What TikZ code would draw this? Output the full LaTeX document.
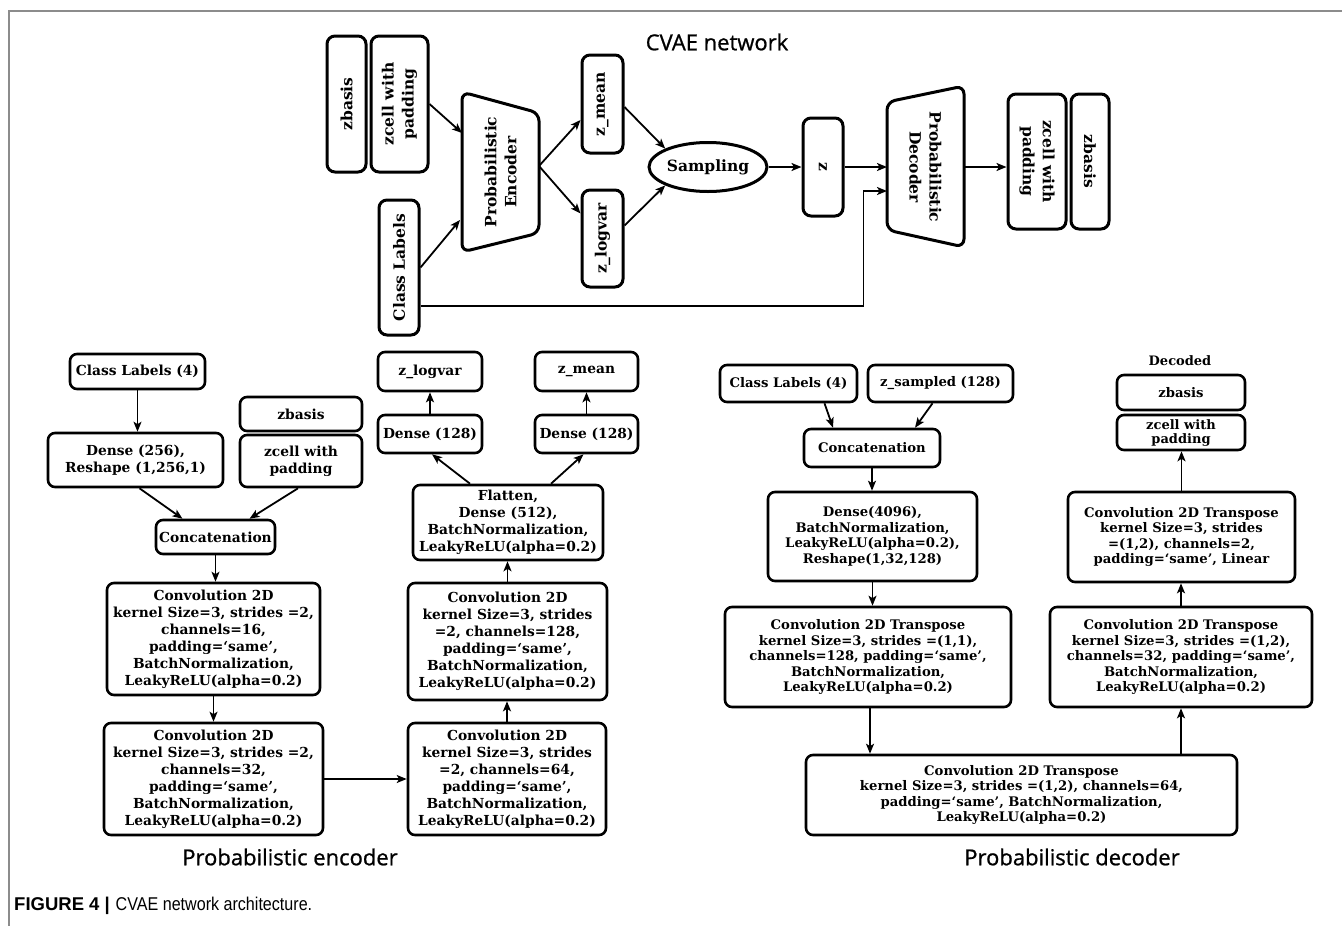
\documentclass[tikz,border=0pt]{standalone}
\usepackage{fontspec}
\setmainfont{DejaVu Serif}
\newfontfamily\sansT[FakeBold=0.9]{Open Sans}
\newfontfamily\capfont{Liberation Sans}
\newfontfamily\capnarrow[FakeStretch=0.87]{Liberation Sans}
\usetikzlibrary{arrows.meta,shapes.geometric}
\begin{document}
\begin{tikzpicture}[x=1bp,y=-1bp,
  box/.style={draw, line width=2.6bp, rounded corners=7bp, align=center, inner sep=0pt,
    font=\bfseries\fontsize{13.8bp}{17bp}\selectfont},
  dbox/.style={box, font=\bfseries\fontsize{13.2bp}{15.5bp}\selectfont},
  tbox/.style={box, line width=3bp, rounded corners=8bp, font=\bfseries\fontsize{15.5bp}{20bp}\selectfont},
  ttext/.style={inner sep=0pt, align=center, font=\bfseries\fontsize{15.5bp}{20bp}\selectfont},
  trap/.style={line width=3bp, rounded corners=8bp},
  arr/.style={-{Stealth[length=10bp,width=8bp,inset=2.5bp]}, line width=1.8bp},
  lbl/.style={inner sep=0pt, font=\sansT\fontsize{22bp}{26bp}\selectfont}]
\useasboundingbox (0,0) rectangle (1342,926);
% frame
\draw[line width=1.5bp, black!45] (1342,11) -- (9,11) -- (9,926);

% ---------- top: CVAE network ----------
\node[lbl] (title) at (717,42) {CVAE network};
\node[tbox, rotate=90, minimum width=136bp, minimum height=39bp] (zbT) at (346.5,104) {zbasis};
\node[tbox, rotate=90, minimum width=136bp, minimum height=57bp] (zcT) at (399.5,104) {zcell with\\padding};
\node[tbox, rotate=90, minimum width=135bp, minimum height=40bp] (clT) at (399,267.5) {Class Labels};
\draw[trap] (462,172) -- (462,92) -- (539,113) -- (539,233) -- (462,252) -- cycle;
\node[ttext, rotate=90] (enc) at (500.5,172) {Probabilistic\\Encoder};
\coordinate (encI1) at (462,133);
\coordinate (encI2) at (460,220);
\coordinate (encO) at (539,166);
\node[tbox, rotate=90, minimum width=98bp, minimum height=41bp] (zmT) at (602.5,104) {z\_mean};
\node[tbox, rotate=90, minimum width=97bp, minimum height=41bp] (zlT) at (602.5,238.5) {z\_logvar};
\node[draw, ellipse, line width=3bp, minimum width=118bp, minimum height=49bp, inner sep=0pt,
  font=\bfseries\fontsize{15.5bp}{20bp}\selectfont] (samp) at (708,167) {Sampling};
\node[tbox, rotate=-90, minimum width=98bp, minimum height=40bp] (zT) at (823,167) {z};
\draw[trap] (887,167) -- (887,102) -- (964,86) -- (964,247) -- (887,230) -- cycle;
\node[ttext, rotate=-90] (dec) at (925.5,167) {Probabilistic\\Decoder};
\coordinate (decI) at (887,167);
\coordinate (decI2) at (887,191);
\coordinate (decO) at (964,167);
\node[tbox, rotate=-90, minimum width=135bp, minimum height=58bp] (zcR) at (1037,161.5) {zcell with\\padding};
\node[tbox, rotate=-90, minimum width=135bp, minimum height=38bp] (zbR) at (1090,161.5) {zbasis};

\draw[arr] (zcT.south) -- (encI1);
\draw[arr] (clT.south) -- (encI2);
\draw[arr] (encO) -- ([yshift=-16bp]zmT.north);
\draw[arr] (encO) -- ([yshift=25bp]zlT.north);
\draw[arr] ([yshift=-3bp]zmT.south) -- (samp.north west);
\draw[arr] ([yshift=13bp]zlT.south) -- (samp.south west);
\draw[arr] (samp.east) -- (zT.south);
\draw[arr] (zT.north) -- (decI);
\draw[arr] ([yshift=-38.5bp]clT.south) -- ++(443,0) |- (decI2);
\draw[arr] (decO) -- (decO -| zcR.south);

% ---------- probabilistic encoder ----------
\node[box, minimum width=135bp, minimum height=35bp] (cl4E) at (137.5,371.5) {Class Labels (4)};
\node[box, minimum width=175bp, minimum height=54bp] (dnsE) at (135.5,460) {Dense (256),\\Reshape (1,256,1)};
\node[box, minimum width=122bp, minimum height=34bp] (zbE) at (301,414) {zbasis};
\node[box, minimum width=122bp, minimum height=52bp] (zcE) at (301,461) {zcell with\\padding};
\node[box, minimum width=119bp, minimum height=34bp] (catE) at (215.5,537) {Concatenation};
\node[box, minimum width=213bp, minimum height=112bp] (cv1) at (213.5,639)
  {Convolution 2D\\kernel Size=3, strides =2,\\channels=16,\\padding=‘same’,\\BatchNormalization,\\LeakyReLU(alpha=0.2)};
\node[box, minimum width=219bp, minimum height=112bp] (cv2) at (213.5,779)
  {Convolution 2D\\kernel Size=3, strides =2,\\channels=32,\\padding=‘same’,\\BatchNormalization,\\LeakyReLU(alpha=0.2)};
\node[box, minimum width=198bp, minimum height=112bp] (cv3) at (507,779)
  {Convolution 2D\\kernel Size=3, strides\\=2, channels=64,\\padding=‘same’,\\BatchNormalization,\\LeakyReLU(alpha=0.2)};
\node[box, minimum width=199bp, minimum height=117bp] (cv4) at (507.5,641.5)
  {Convolution 2D\\kernel Size=3, strides\\=2, channels=128,\\padding=‘same’,\\BatchNormalization,\\LeakyReLU(alpha=0.2)};
\node[box, minimum width=190bp, minimum height=75bp] (flat) at (508,522.5)
  {Flatten,\\Dense (512),\\BatchNormalization,\\LeakyReLU(alpha=0.2)};
\node[box, minimum width=104bp, minimum height=38bp] (dl) at (430,434) {Dense (128)};
\node[box, minimum width=103bp, minimum height=38bp] (dr) at (586.5,434) {Dense (128)};
\node[box, minimum width=104bp, minimum height=39bp] (zlE) at (430,371.5) {z\_logvar};
\node[box, minimum width=103bp, minimum height=39bp] (zmE) at (586.5,371.5) {z\_mean};
\node[lbl] (encLbl) at (290,857) {Probabilistic encoder};

\draw[arr] (cl4E.south) -- (cl4E.south |- dnsE.north);
\draw[arr] ([xshift=4bp]dnsE.south) -- ([xshift=-33bp]catE.north);
\draw[arr] ([xshift=-3bp]zcE.south) -- ([xshift=34bp]catE.north);
\draw[arr] (catE.south) -- (catE.south |- cv1.north);
\draw[arr] (cv1.south) -- (cv1.south |- cv2.north);
\draw[arr] (cv2.east) -- (cv3.west);
\draw[arr] (cv3.north) -- (cv3.north |- cv4.south);
\draw[arr] (cv4.north) -- (cv4.north |- flat.south);
\draw[arr] ([xshift=-38bp]flat.north) -- ([xshift=2bp]dl.south);
\draw[arr] ([xshift=43bp]flat.north) -- ([xshift=-3bp]dr.south);
\draw[arr] (dl.north) -- (zlE.south);
\draw[arr] (dr.north) -- (zmE.south);

% ---------- probabilistic decoder ----------
\node[dbox, minimum width=137bp, minimum height=37bp] (cl4D) at (788.5,383.5) {Class Labels (4)};
\node[dbox, minimum width=145bp, minimum height=37bp] (zsD) at (940.5,383.5) {z\_sampled (128)};
\node[dbox, minimum width=136bp, minimum height=38bp] (catD) at (872,448) {Concatenation};
\node[dbox, minimum width=209bp, minimum height=89bp] (dnsD) at (872.5,536.5)
  {Dense(4096),\\BatchNormalization,\\LeakyReLU(alpha=0.2),\\Reshape(1,32,128)};
\node[dbox, minimum width=286bp, minimum height=100bp] (ct1) at (868,657)
  {Convolution 2D Transpose\\kernel Size=3, strides =(1,1),\\channels=128, padding=‘same’,\\BatchNormalization,\\LeakyReLU(alpha=0.2)};
\node[dbox, minimum width=431bp, minimum height=80bp] (ct2) at (1021.5,795)
  {Convolution 2D Transpose\\kernel Size=3, strides =(1,2), channels=64,\\padding=‘same’, BatchNormalization,\\LeakyReLU(alpha=0.2)};
\node[dbox, minimum width=262bp, minimum height=100bp] (ct3) at (1181,657)
  {Convolution 2D Transpose\\kernel Size=3, strides =(1,2),\\channels=32, padding=‘same’,\\BatchNormalization,\\LeakyReLU(alpha=0.2)};
\node[dbox, minimum width=227bp, minimum height=90bp] (ct4) at (1181.5,537)
  {Convolution 2D Transpose\\kernel Size=3, strides\\=(1,2), channels=2,\\padding=‘same’, Linear};
\node[dbox, minimum width=128bp, minimum height=35bp, font=\bfseries\fontsize{13bp}{14bp}\selectfont] (zcD) at (1181,432.5) {zcell with\\padding};
\node[dbox, minimum width=128bp, minimum height=35bp] (zbD) at (1181,392.5) {zbasis};
\node[inner sep=0pt, font=\bfseries\fontsize{13bp}{15bp}\selectfont] (decoded) at (1180,361) {Decoded};
\node[lbl] (decLbl) at (1072,857) {Probabilistic decoder};

\draw[arr] ([xshift=36bp]cl4D.south) -- ([xshift=-39bp]catD.north);
\draw[arr] ([xshift=-8bp]zsD.south) -- ([xshift=43bp]catD.north);
\draw[arr] (catD.south) -- (catD.south |- dnsD.north);
\draw[arr] (dnsD.south) -- (dnsD.south |- ct1.north);
\draw[arr] ([xshift=2bp]ct1.south) -- ([xshift=2bp]ct1.south |- ct2.north);
\draw[arr] (ct3.south |- ct2.north) -- (ct3.south);
\draw[arr] (ct3.north) -- (ct3.north |- ct4.south);
\draw[arr] (ct4.north) -- (ct4.north |- zcD.south);

% ---------- caption ----------
\node[anchor=base west, inner sep=0pt, font=\fontsize{18.5bp}{21bp}\selectfont] (cap) at (14,910)
  {{\capfont\bfseries FIGURE 4 |} {\capnarrow CVAE network architecture.}};
\end{tikzpicture}
\end{document}
